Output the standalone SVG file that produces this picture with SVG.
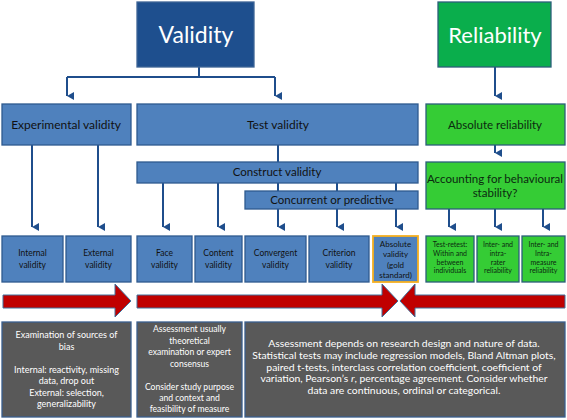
<svg xmlns="http://www.w3.org/2000/svg" width="567" height="420" viewBox="0 0 567 420">
<defs>
<marker id="ah" markerWidth="8" markerHeight="7" refX="4" refY="7" orient="auto-start-reverse" markerUnits="userSpaceOnUse" viewBox="0 0 8 7">
<path d="M0,0 L8,0 L4,7 Z" fill="#1f4e8c"/>
</marker>
<style>
text{font-family:Lato,"Open Sans","Liberation Sans",sans-serif;text-anchor:middle}
.blue{fill:#4f81bd;stroke:#2f5a8f;stroke-width:1.3}
.dark{fill:#1e4f8e;stroke:#3d6496;stroke-width:1.3}
.g1{fill:#0aae4c;stroke:#2b5f7a;stroke-width:1.3}
.g2{fill:#35cc35;stroke:#2b5f7a;stroke-width:1.3}
.gray{fill:#595959;stroke:#3a5f8e;stroke-width:1.3}
.red{fill:#c00000;stroke:#41719c;stroke-width:1}
.con{fill:none;stroke:#1f4e8c;stroke-width:2}
.w{fill:#ffffff}
.k{fill:#111111}
.kg{fill:#0b2a10}
</style>
</defs>
<rect width="567" height="420" fill="#ffffff"/>

<g id="connectors">
<path class="con" d="M199,67 V77 M67,77 H275"/>
<path class="con" d="M67,77 V96" marker-end="url(#ah)"/>
<path class="con" d="M275,77 V96" marker-end="url(#ah)"/>
<path class="con" d="M495,67 V96" marker-end="url(#ah)"/>
<path class="con" d="M32,145 V227" marker-end="url(#ah)"/>
<path class="con" d="M98,145 V227" marker-end="url(#ah)"/>
<path class="con" d="M278,145 V162"/>
<path class="con" d="M163,183 V227" marker-end="url(#ah)"/>
<path class="con" d="M218,183 V227" marker-end="url(#ah)"/>
<path class="con" d="M278,183 V191 M337,183 V191 M396,183 V191"/>
<path class="con" d="M278,209 V227" marker-end="url(#ah)"/>
<path class="con" d="M337,209 V227" marker-end="url(#ah)"/>
<path class="con" d="M396,209 V227" marker-end="url(#ah)"/>
<path class="con" d="M495,145 V153" marker-end="url(#ah)"/>
<path class="con" d="M449,209 V227" marker-end="url(#ah)"/>
<path class="con" d="M495,209 V227" marker-end="url(#ah)"/>
<path class="con" d="M543,209 V227" marker-end="url(#ah)"/>
</g>

<g id="validity"><rect class="dark" x="137" y="2" width="117" height="65"/><text class="w" x="196" y="43" font-size="23">Validity</text></g>
<g id="reliability"><rect class="g1" x="438" y="2" width="113" height="65"/><text class="w" x="495" y="43" font-size="22">Reliability</text></g>

<g id="experimental"><rect class="blue" x="2" y="104" width="129" height="41"/><text class="k" x="66" y="129" font-size="12">Experimental validity</text></g>
<g id="test"><rect class="blue" x="137" y="104" width="281" height="41"/><text class="k" x="278" y="129" font-size="12">Test validity</text></g>
<g id="absrel"><rect class="g2" x="426" y="104" width="139" height="41"/><text class="kg" x="495" y="129" font-size="11.5">Absolute reliability</text></g>

<g id="construct"><rect class="blue" x="137" y="162" width="281" height="21"/><text class="k" x="277" y="176" font-size="11.5">Construct validity</text></g>
<g id="concurrent"><rect class="blue" x="245" y="191" width="173" height="18"/><text class="k" x="332" y="204" font-size="11.5">Concurrent or predictive</text></g>
<g id="accounting"><rect class="g2" x="426" y="162" width="139" height="47"/><text class="kg" font-size="11.5"><tspan x="495" y="183">Accounting for behavioural</tspan><tspan x="495" y="197">stability?</tspan></text></g>

<g id="internal"><rect class="blue" x="2" y="236" width="61" height="46"/><text class="k" font-size="8.5"><tspan x="32.5" y="256">Internal</tspan><tspan x="32.5" y="268">validity</tspan></text></g>
<g id="external"><rect class="blue" x="66" y="236" width="65" height="46"/><text class="k" font-size="8.5"><tspan x="98.5" y="256">External</tspan><tspan x="98.5" y="268">validity</tspan></text></g>
<g id="face"><rect class="blue" x="137" y="236" width="55" height="46"/><text class="k" font-size="8.5"><tspan x="164.5" y="256">Face</tspan><tspan x="164.5" y="268">validity</tspan></text></g>
<g id="content"><rect class="blue" x="195" y="236" width="47" height="46"/><text class="k" font-size="8.5"><tspan x="218.5" y="256">Content</tspan><tspan x="218.5" y="268">validity</tspan></text></g>
<g id="convergent"><rect class="blue" x="245" y="236" width="61" height="46"/><text class="k" font-size="8.5"><tspan x="275.5" y="256">Convergent</tspan><tspan x="275.5" y="268">validity</tspan></text></g>
<g id="criterion"><rect class="blue" x="309" y="236" width="60" height="46"/><text class="k" font-size="8.5"><tspan x="339" y="256">Criterion</tspan><tspan x="339" y="268">validity</tspan></text></g>
<g id="absval"><rect x="373" y="236" width="45" height="46" fill="#4f81bd" stroke="#f5b021" stroke-width="1.8"/><text class="k" font-size="8"><tspan x="395.5" y="247">Absolute</tspan><tspan x="395.5" y="257">validity</tspan><tspan x="395.5" y="268">(gold</tspan><tspan x="395.5" y="278">standard)</tspan></text></g>
<g id="testretest"><rect class="g2" x="426" y="236" width="48" height="46"/><text class="kg" font-size="7"><tspan x="450" y="247">Test-retest:</tspan><tspan x="450" y="256">Within and</tspan><tspan x="450" y="265">between</tspan><tspan x="450" y="273">individuals</tspan></text></g>
<g id="interrater"><rect class="g2" x="477" y="236" width="42" height="46"/><text class="kg" font-size="7"><tspan x="498" y="247">Inter- and</tspan><tspan x="498" y="256">intra-</tspan><tspan x="498" y="265">rater</tspan><tspan x="498" y="273">reliability</tspan></text></g>
<g id="intermeasure"><rect class="g2" x="522" y="236" width="43" height="46"/><text class="kg" font-size="7"><tspan x="543.5" y="247">Inter- and</tspan><tspan x="543.5" y="256">Intra-</tspan><tspan x="543.5" y="265">measure</tspan><tspan x="543.5" y="273">reliability</tspan></text></g>

<g id="arrow1"><path class="red" d="M3,295 H115 V284 L131,301 L115,317 V308 H3 Z"/></g>
<g id="arrow2"><path class="red" d="M137,295 H382 V284 L398,301 L382,317 V308 H137 Z"/></g>
<g id="arrow3"><path class="red" d="M565,295 H415 V284 L400,301 L415,317 V308 H565 Z"/></g>

<g id="note1"><rect class="gray" x="2" y="322" width="129" height="95"/><text class="w" font-size="9"><tspan x="66.5" y="338">Examination of sources of</tspan><tspan x="66.5" y="350">bias</tspan><tspan x="66.5" y="373">Internal: reactivity, missing</tspan><tspan x="66.5" y="384">data, drop out</tspan><tspan x="66.5" y="396">External: selection,</tspan><tspan x="66.5" y="407">generalizability</tspan></text></g>
<g id="note2"><rect class="gray" x="137" y="322" width="105" height="95"/><text class="w" font-size="8.6"><tspan x="189.5" y="332">Assessment usually</tspan><tspan x="189.5" y="344">theoretical</tspan><tspan x="189.5" y="355">examination or expert</tspan><tspan x="189.5" y="367">consensus</tspan><tspan x="189.5" y="390">Consider study purpose</tspan><tspan x="189.5" y="401">and context and</tspan><tspan x="189.5" y="412">feasibility of measure</tspan></text></g>
<g id="note3"><rect class="gray" x="245" y="322" width="320" height="95"/><text class="w" font-size="10.4"><tspan x="404" y="347">Assessment depends on research design and nature of data.</tspan><tspan x="404" y="359">Statistical tests may include regression models, Bland Altman plots,</tspan><tspan x="404" y="371">paired t-tests, interclass correlation coefficient, coefficient of</tspan><tspan x="404" y="382">variation, Pearson’s <tspan font-style="italic">r</tspan>, percentage agreement. Consider whether</tspan><tspan x="404" y="394">data are continuous, ordinal or categorical.</tspan></text></g>
</svg>
